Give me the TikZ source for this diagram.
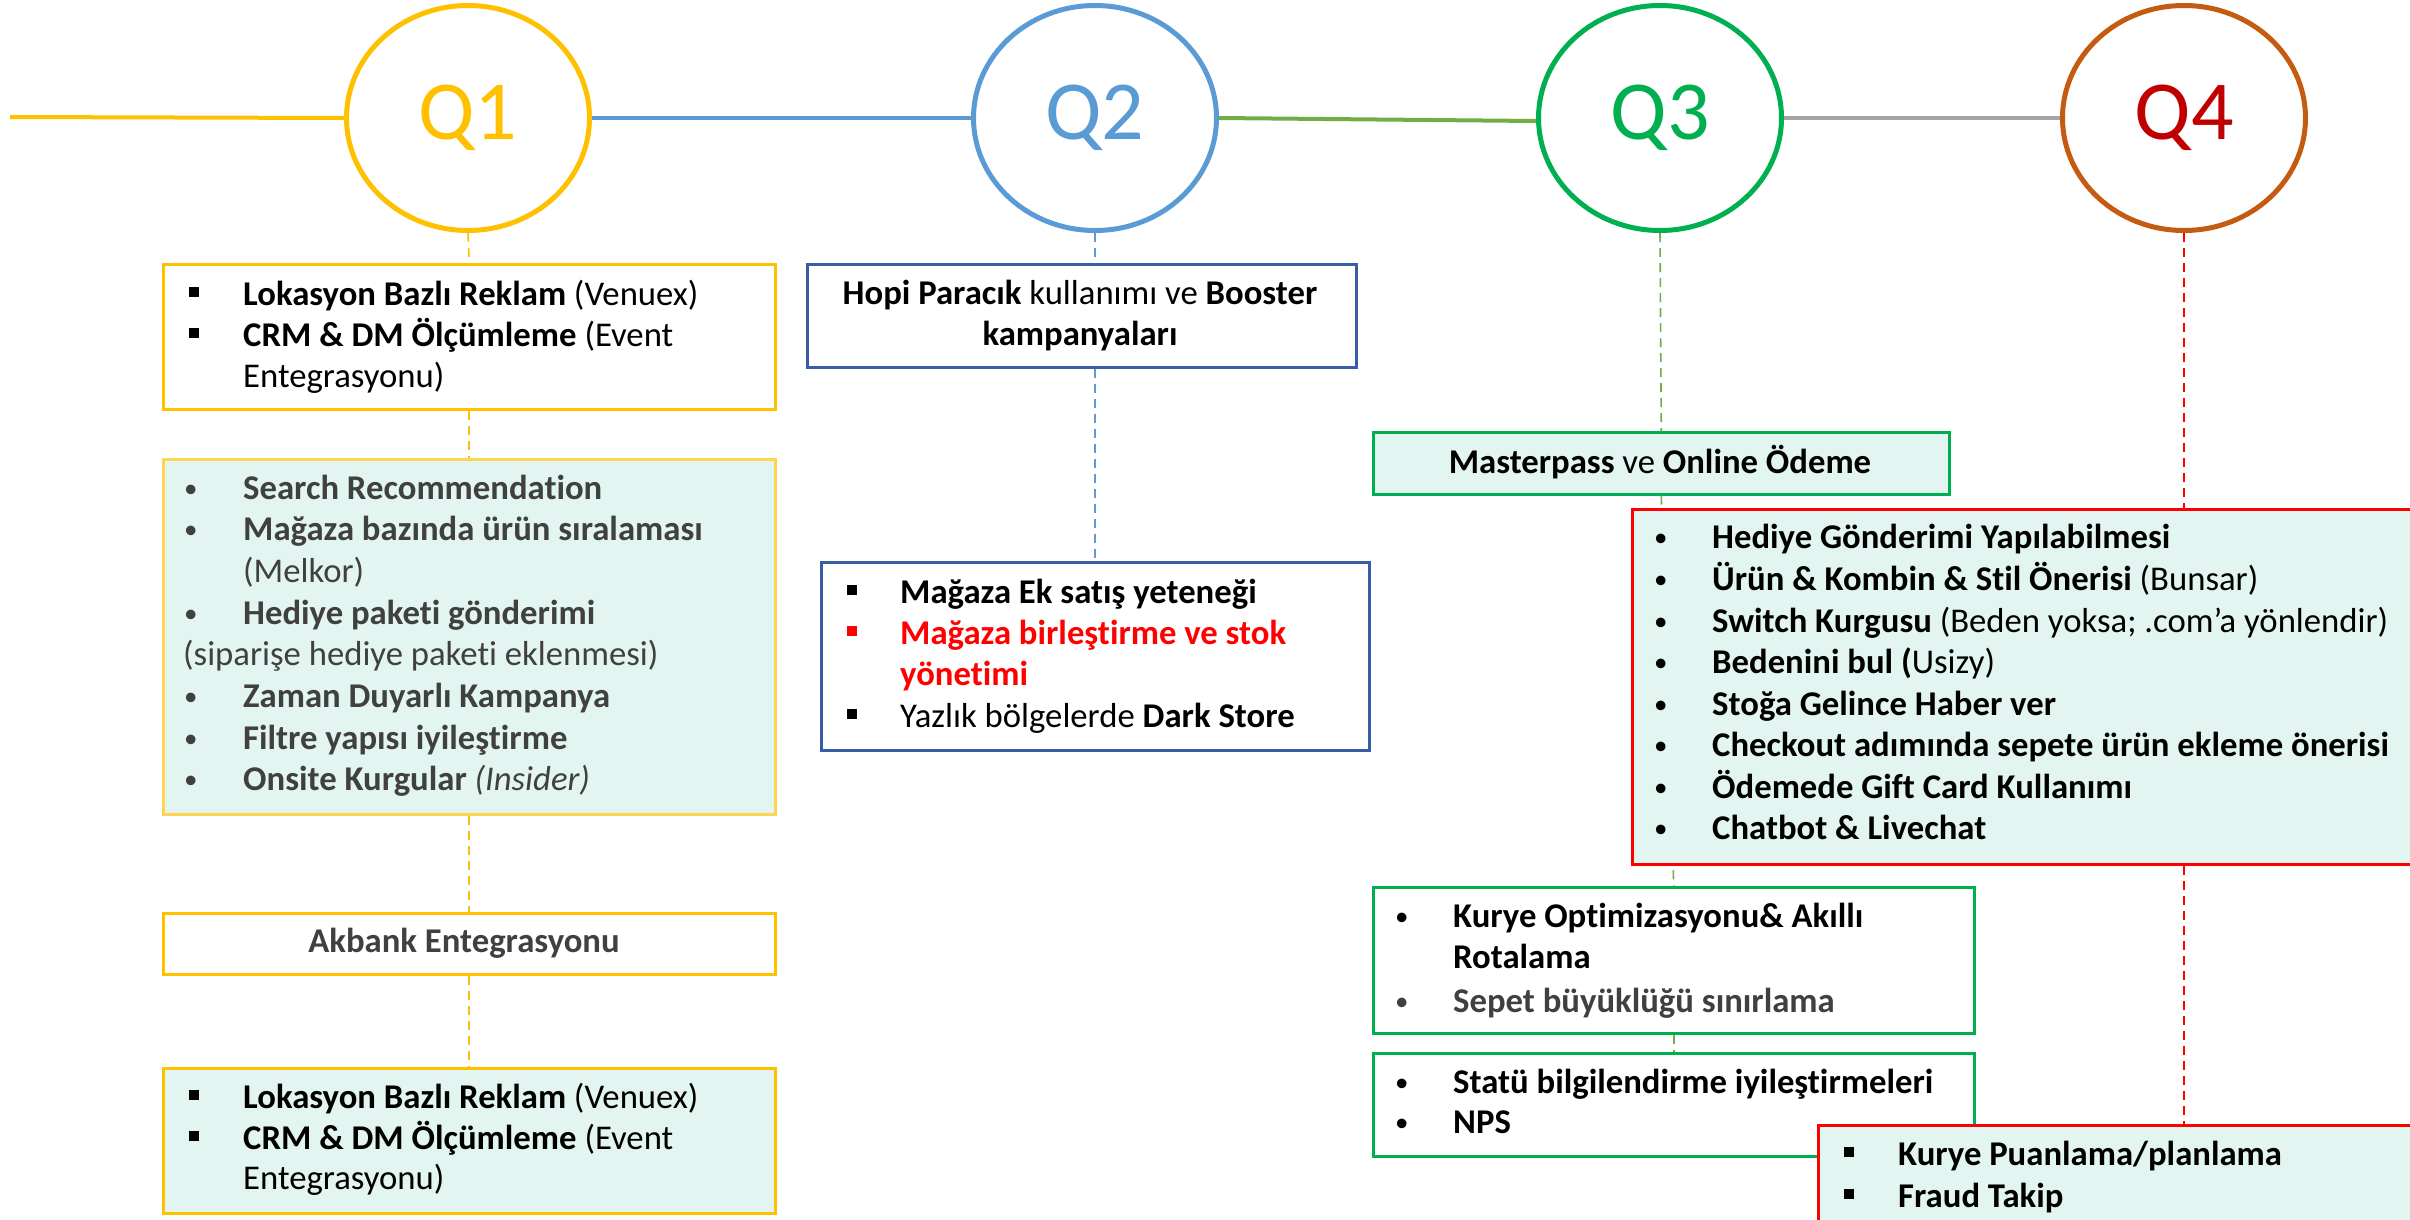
\documentclass[tikz,border=0pt]{standalone}
\usepackage{fontspec}
\setmainfont{Carlito}[Ligatures={NoCommon,NoDiscretionary}]
\usetikzlibrary{shapes.geometric}
\definecolor{cyel}{HTML}{FFC000}
\definecolor{cyel2}{HTML}{FFD54F}
\definecolor{cblue}{HTML}{5B9BD5}
\definecolor{cdblue}{HTML}{3A5DA8}
\definecolor{cgreen}{HTML}{00B050}
\definecolor{clgreen}{HTML}{70AD47}
\definecolor{cgray}{HTML}{A5A5A5}
\definecolor{corange}{HTML}{C55A11}
\definecolor{cdred}{HTML}{C00000}
\definecolor{cred}{HTML}{FF0000}
\definecolor{cmint}{HTML}{E2F5F1}
\definecolor{ctext}{HTML}{404040}
\newcommand\sqb{\rule[8pt]{10pt}{10pt}}
\newcommand\rdb{\raisebox{2pt}{\fontsize{27}{27}\selectfont\textbullet}}
\newcommand\tline[5]{\node[txt,text=#5] (#1) at (#2,#3) {#4};}
\tikzset{
  qel/.style={ellipse,draw,line width=5pt,minimum width=243pt,minimum height=225pt,inner sep=0pt,font=\fontsize{84}{84}\selectfont},
  tl/.style={line width=4pt},
  box/.style={draw,anchor=north west,line width=2.5pt,inner sep=0pt},
  txt/.style={anchor=base west,inner sep=0pt,font=\fontsize{34.7}{41.5}\selectfont},
  ctxt/.style={anchor=base,inner sep=0pt,font=\fontsize{34.7}{41.5}\selectfont},
  dsh/.style={line width=1.6pt,dash pattern=on 9pt off 6pt}
}
\begin{document}
\begin{tikzpicture}[x=1pt,y=-1pt]
\useasboundingbox (0,0) rectangle (2410,1219);
\clip (0,0) rectangle (2410,1219);
% quarter ellipses
\node[qel,draw=cyel,text=cyel] (q1) at (468,118) {Q1};
\node[qel,draw=cblue,text=cblue] (q2) at (1095,118) {Q2};
\node[qel,draw=cgreen,text=cgreen] (q3) at (1660,118) {Q3};
\node[qel,draw=corange,text=cdred] (q4) at (2184,118) {Q4};
\coordinate (start) at (10,117);
\draw[tl,cyel] (start) -- (q1.west);
\draw[tl,cblue] (q1.east) -- (q2.west);
\draw[tl,clgreen] (q2.east) -- ([yshift=-3pt]q3.west);
\draw[tl,cgray] (q3.east) -- (q4.west);

% boxes
\node[box,draw=cyel,fill=white,minimum width=612pt,minimum height=145pt] (b1) at (162,263) {};
\node[box,draw=cyel2,fill=cmint,minimum width=612pt,minimum height=355pt] (b2) at (162,458) {};
\node[box,draw=cyel,fill=white,minimum width=612pt,minimum height=61pt] (b3) at (162,912) {};
\node[box,draw=cyel,fill=cmint,minimum width=612pt,minimum height=145pt] (b4) at (162,1067) {};

\node[box,draw=cdblue,fill=white,minimum width=549pt,minimum height=103pt] (hopi) at (806,263) {};
\node[box,draw=cdblue,fill=white,minimum width=548pt,minimum height=188pt] (mag) at (820,561) {};

\node[box,draw=cgreen,fill=cmint,minimum width=576pt,minimum height=62pt] (mp) at (1372,431) {};
\node[box,draw=cgreen,fill=white,minimum width=601pt,minimum height=146pt] (kur) at (1372,886) {};
\node[box,draw=cgreen,fill=white,minimum width=601pt,minimum height=103pt] (sta) at (1372,1052) {};

% dashed connectors
\draw[dsh,cyel] (q1.south) -- (b1.north);
\draw[dsh,cyel] (b1.south) -- (b2.north);
\draw[dsh,cyel] (b2.south) -- (b3.north);
\draw[dsh,cyel] (b3.south) -- (b4.north);
\draw[dsh,cblue] (q2.south) -- (q2.south |- hopi.north);
\draw[dsh,cblue] (q2.south |- hopi.south) -- (q2.south |- mag.north);
\draw[dsh,clgreen] (q3.south) -- (mp.north);
\draw[dsh,clgreen] (mp.south) -- (kur.north);
\draw[dsh,clgreen] (kur.south) -- (sta.north);

% Q4 boxes (extend beyond the right edge)
\node[box,draw=cred,fill=cmint,minimum width=800pt,minimum height=355pt] (rb) at (1631,508) {};
\node[box,draw=cred,fill=cmint,minimum width=620pt,minimum height=120pt] (kp) at (1817,1124) {};
\draw[dsh,cred] (q4.south) -- (q4.south |- rb.north);
\draw[dsh,cred] (q4.south |- rb.south) -- (q4.south |- kp.north);

% box 1 texts
\tline{t11}{189}{305}{\sqb}{black}
\tline{t12}{243}{305}{\textbf{Lokasyon Bazlı Reklam} (Venuex)}{black}
\tline{t13}{189}{346}{\sqb}{black}
\tline{t14}{243}{346}{\textbf{CRM \& DM Ölçümleme} (Event}{black}
\tline{t15}{243}{387}{Entegrasyonu)}{black}

% box 2 texts
\tline{t21}{184}{499}{\rdb}{ctext}
\tline{t22}{243}{499}{\textbf{Search Recommendation}}{ctext}
\tline{t23}{184}{540}{\rdb}{ctext}
\tline{t24}{243}{540}{\textbf{Mağaza bazında ürün sıralaması}}{ctext}
\tline{t25}{243}{582}{(Melkor)}{ctext}
\tline{t26}{184}{624}{\rdb}{ctext}
\tline{t27}{243}{624}{\textbf{Hediye paketi gönderimi}}{ctext}
\tline{t28}{183}{665}{(siparişe hediye paketi eklenmesi)}{ctext}
\tline{t29}{184}{707}{\rdb}{ctext}
\tline{t2a}{243}{707}{\textbf{Zaman Duyarlı Kampanya}}{ctext}
\tline{t2b}{184}{749}{\rdb}{ctext}
\tline{t2c}{243}{749}{\textbf{Filtre yapısı iyileştirme}}{ctext}
\tline{t2d}{184}{790}{\rdb}{ctext}
\tline{t2e}{243}{790}{\textbf{Onsite Kurgular} \textit{(Insider)}}{ctext}

% Akbank
\node[ctxt,text=ctext] (t31) at (464,952) {\textbf{Akbank Entegrasyonu}};

% box 4 texts
\tline{t41}{189}{1108}{\sqb}{black}
\tline{t42}{243}{1108}{\textbf{Lokasyon Bazlı Reklam} (Venuex)}{black}
\tline{t43}{189}{1149}{\sqb}{black}
\tline{t44}{243}{1149}{\textbf{CRM \& DM Ölçümleme} (Event}{black}
\tline{t45}{243}{1189}{Entegrasyonu)}{black}

% Hopi
\node[ctxt] (t51) at (1080,304) {\textbf{Hopi Paracık} kullanımı ve \textbf{Booster}};
\node[ctxt] (t52) at (1080,345) {\textbf{kampanyaları}};

% Mağaza box
\tline{t61}{847}{603}{\sqb}{black}
\tline{t62}{900}{603}{\textbf{Mağaza Ek satış yeteneği}}{black}
\tline{t63}{847}{644}{\sqb}{cred}
\tline{t64}{900}{644}{\textbf{Mağaza birleştirme ve stok}}{cred}
\tline{t65}{900}{685}{\textbf{yönetimi}}{cred}
\tline{t66}{847}{727}{\sqb}{black}
\tline{t67}{900}{727}{Yazlık bölgelerde \textbf{Dark Store}}{black}

% Masterpass
\node[ctxt] (t71) at (1660,473) {\textbf{Masterpass} ve \textbf{Online Ödeme}};

% Q4 red box
\tline{t81}{1654}{548}{\rdb}{black}
\tline{t82}{1712}{548}{\textbf{Hediye Gönderimi Yapılabilmesi}}{black}
\tline{t83}{1654}{590}{\rdb}{black}
\tline{t84}{1712}{590}{\textbf{Ürün \& Kombin \& Stil Önerisi} (Bunsar)}{black}
\tline{t85}{1654}{632}{\rdb}{black}
\tline{t86}{1712}{632}{\textbf{Switch Kurgusu} (Beden yoksa; .com’a yönlendir)}{black}
\tline{t87}{1654}{673}{\rdb}{black}
\tline{t88}{1712}{673}{\textbf{Bedenini bul (}Usizy)}{black}
\tline{t89}{1654}{715}{\rdb}{black}
\tline{t8a}{1712}{715}{\textbf{Stoğa Gelince Haber ver}}{black}
\tline{t8b}{1654}{756}{\rdb}{black}
\tline{t8c}{1712}{756}{\textbf{Checkout adımında sepete ürün ekleme önerisi}}{black}
\tline{t8d}{1654}{798}{\rdb}{black}
\tline{t8e}{1712}{798}{\textbf{Ödemede Gift Card Kullanımı}}{black}
\tline{t8f}{1654}{839}{\rdb}{black}
\tline{t8g}{1712}{839}{\textbf{Chatbot \& Livechat}}{black}

% Kurye box
\tline{t91}{1395}{927}{\rdb}{black}
\tline{t92}{1453}{927}{\textbf{Kurye Optimizasyonu\& Akıllı}}{black}
\tline{t93}{1453}{968}{\textbf{Rotalama}}{black}
\tline{t94}{1395}{1012}{\rdb}{ctext}
\tline{t95}{1453}{1012}{\textbf{Sepet büyüklüğü sınırlama}}{ctext}

% Statü box
\tline{ta1}{1395}{1093}{\rdb}{black}
\tline{ta2}{1453}{1093}{\textbf{Statü bilgilendirme iyileştirmeleri}}{black}
\tline{ta3}{1395}{1133}{\rdb}{black}
\tline{ta4}{1453}{1133}{\textbf{NPS}}{black}

% Kurye puanlama box
\tline{tb1}{1844}{1165}{\sqb}{black}
\tline{tb2}{1898}{1165}{\textbf{Kurye Puanlama/planlama}}{black}
\tline{tb3}{1844}{1207}{\sqb}{black}
\tline{tb4}{1898}{1207}{\textbf{Fraud Takip}}{black}
\end{tikzpicture}
\end{document}
